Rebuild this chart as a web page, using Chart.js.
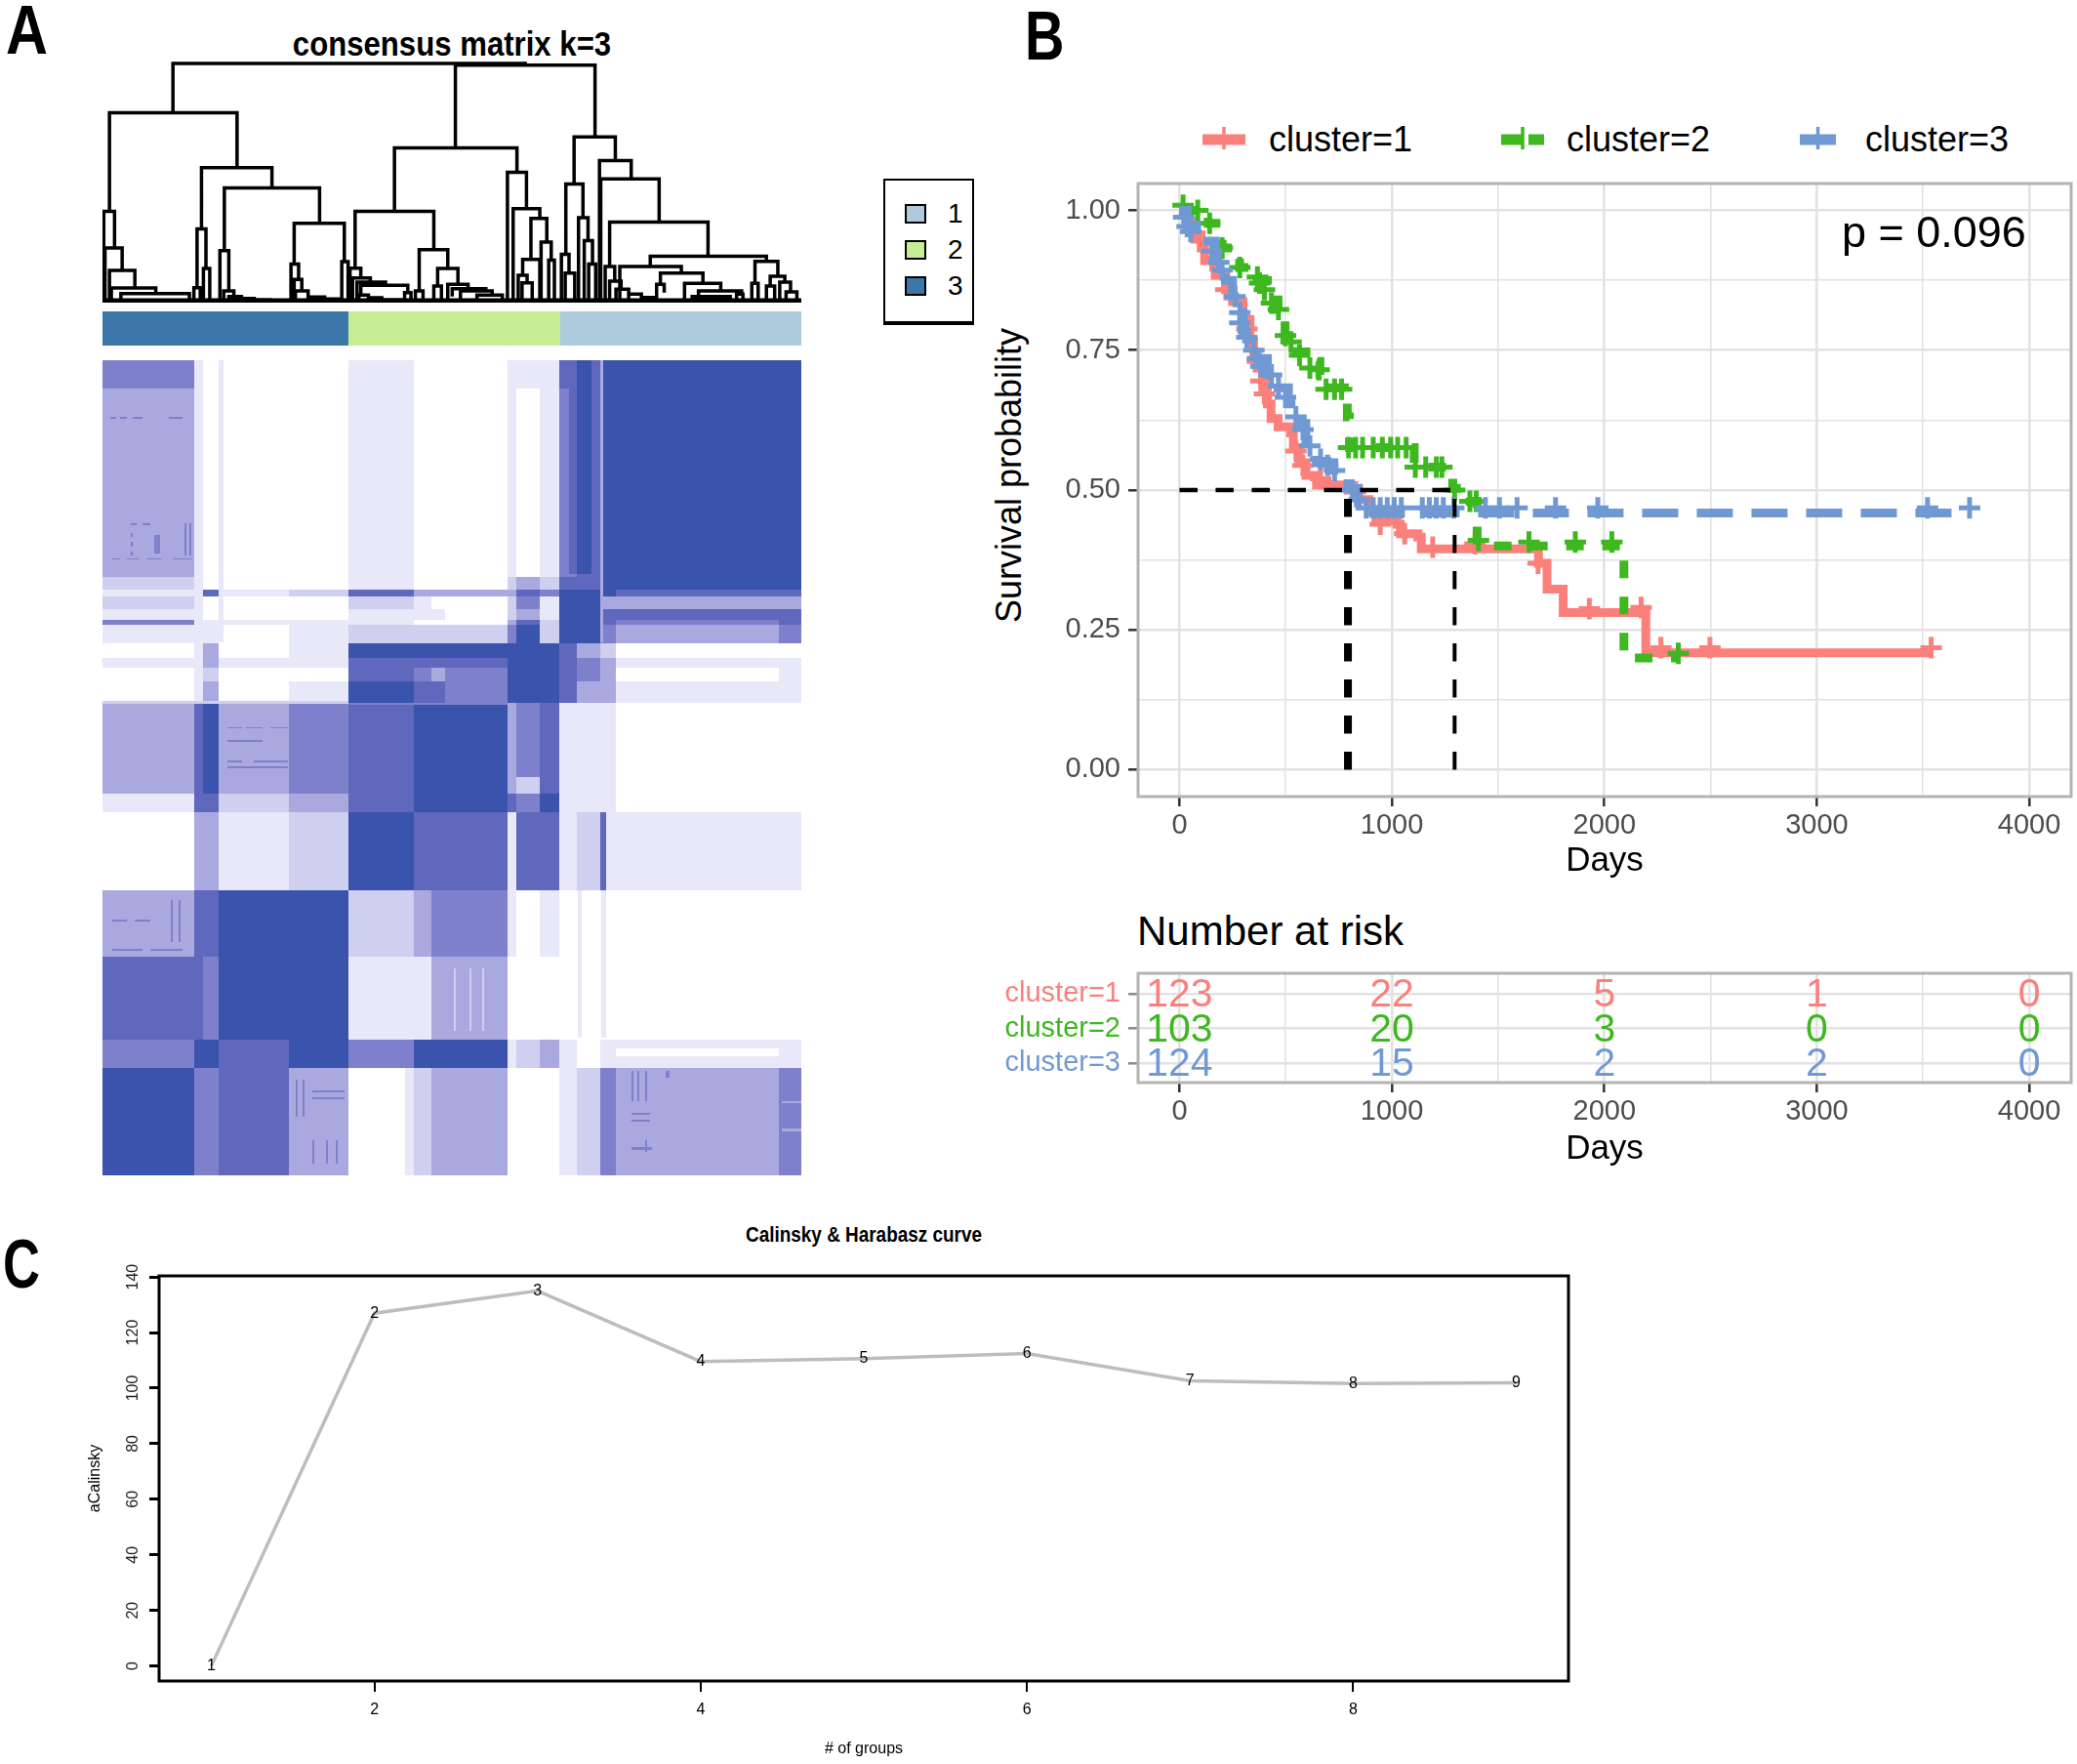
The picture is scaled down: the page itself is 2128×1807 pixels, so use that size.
<!DOCTYPE html>
<html>
<head>
<meta charset="utf-8">
<title>Consensus clustering</title>
<script src="https://cdn.jsdelivr.net/npm/chart.js@4"></script>
<style>
    html, body { margin: 0; padding: 0; background: #fff; }
    #page { position: relative; width: 2128px; height: 1807px; overflow: hidden; font-family: 'Liberation Sans', Arial, sans-serif; }
    #page canvas { position: absolute; }
    .txt { position: absolute; white-space: nowrap; line-height: 1; color: #000; }
    #heatLegend { position: absolute; left: 905px; top: 183px; width: 89px; height: 144px; border: 2px solid #000; border-bottom-width: 4px; }
    #heatLegend .sw { position: absolute; left: 20px; width: 18px; height: 16px; border: 2px solid #000; }
    #heatLegend .lb { position: absolute; left: 64px; font-size: 28px; line-height: 1; color: #000; }
</style>
</head>
<body>
<div id="page"></div>
<script>
// ---------- panel A: consensus matrix ----------
const annotNames = ['3', '2', '1'];
const annotSizes = [123, 106, 121];
const annotColors = ['#3b77a8', '#c7ee92', '#adcbdd'];
const legendNames = ['1', '2', '3'];
const legendColors = ['#adcbdd', '#c7ee92', '#3b77a8'];

// dendrogram merges: left leaf pos, right leaf pos, height, left child height, right child height
const dendroMerges = [
    [111, 666, 733, 583, 728], [556, 776, 728, 476, 508], [11, 212, 581, 278, 412],
    [2, 19, 278, 0, 165], [4, 31, 165, 0, 96], [11, 51, 96, 0, 42], [14, 84, 42, 0, 25], [29, 137, 25, 0, 0],
    [156, 267, 412, 224, 350], [149, 163, 224, 43, 102], [144, 154, 43, 0, 0], [159, 169, 102, 0, 0],
    [192, 342, 350, 157, 241], [185, 199, 157, 0, 33], [191, 207, 33, 0, 16],
    [199, 219, 16, 0, 10], [219, 239, 10, 0, 6], [239, 264, 6, 0, 3], [264, 294, 3, 0, 0],
    [302, 381, 241, 116, 123], [297, 309, 116, 0, 68], [302, 314, 68, 0, 33],
    [304, 324, 33, 0, 14], [324, 350, 14, 0, 8], [350, 374, 8, 0, 0], [377, 387, 123, 0, 0],
    [460, 653, 473, 280, 398], [398, 522, 278, 103, 160], [390, 407, 103, 0, 73], [394, 422, 73, 0, 60],
    [401, 446, 60, 0, 50], [407, 481, 50, 20, 28], [404, 419, 20, 0, 12], [419, 440, 12, 0, 6], [440, 474, 6, 0, 0],
    [476, 486, 28, 0, 0], [499, 544, 160, 33, 102], [493, 505, 33, 0, 0], [528, 560, 102, 48, 53], [522, 534, 48, 0, 0],
    [544, 576, 53, 0, 40], [551, 604, 40, 16, 33], [564, 614, 33, 0, 20], [590, 630, 20, 0, 0],
    [638, 668, 398, 0, 286], [647, 689, 286, 0, 256], [675, 700, 256, 130, 183], [662, 689, 130, 81, 0],
    [655, 669, 81, 0, 58], [661, 677, 58, 0, 0], [691, 707, 183, 0, 128], [703, 712, 128, 0, 0],
    [743, 808, 507, 362, 435], [730, 757, 362, 146, 258], [723, 735, 146, 0, 88], [729, 744, 88, 0, 0],
    [750, 765, 258, 0, 188], [759, 772, 188, 0, 116], [766, 777, 116, 0, 0],
    [783, 833, 434, 0, 378], [785, 877, 378, 0, 245], [799, 954, 245, 108, 140], [792, 807, 108, 0, 63],
    [799, 817, 63, 0, 38], [809, 829, 38, 0, 23], [829, 849, 23, 0, 13], [849, 869, 13, 0, 0],
    [863, 1046, 140, 108, 124], [815, 912, 108, 0, 88], [879, 946, 88, 53, 56], [873, 885, 53, 0, 28],
    [917, 974, 56, 0, 33], [939, 1007, 33, 18, 23], [929, 989, 16, 0, 0], [999, 1009, 23, 0, 0],
    [1028, 1064, 124, 56, 78], [1023, 1033, 56, 0, 0], [1052, 1075, 78, 48, 60], [1046, 1059, 48, 0, 0],
    [1067, 1084, 60, 0, 30], [1077, 1094, 30, 0, 0], [0, 1101, 2, 0, 0], [0, 1101, 5, 0, 0]
];

// consensus matrix as blocks: column / row breaks in sample units, one shade level per block
const heatColBreaks = [0, 45.9, 50.5, 58, 93.6, 123, 155.8, 164.5, 171.5, 203, 207.3, 219, 228.8, 237.7, 249.4, 256.9, 338.8, 350];
const heatRowBreaks = [0, 12, 92.9, 98.7, 101.6, 106.7, 111.3, 113.6, 121.6, 127.9, 132, 137.7, 147, 179, 186, 194, 227.4, 256.2, 291.8, 304, 350];
const heatLevels = [
    [4, 1, 0, 0, 0, 1, 0, 0, 0, 1, 1, 1, 5, 5, 6, 6, 6],
    [3, 1, 0, 0, 0, 1, 0, 0, 0, 1, 0, 1, 4, 5, 6, 6, 6],
    [2, 1, 0, 0, 0, 1, 0, 0, 0, 2, 3, 2, 5, 5, 6, 6, 6],
    [1, 1, 5, 1, 2, 5, 3, 3, 3, 3, 5, 4, 6, 6, 6, 5, 5],
    [2, 1, 0, 0, 0, 2, 1, 0, 0, 2, 4, 1, 6, 6, 3, 3, 3],
    [1, 1, 0, 0, 0, 1, 1, 1, 0, 2, 3, 1, 6, 6, 5, 5, 5],
    [4, 1, 1, 1, 1, 1, 0, 0, 0, 3, 5, 2, 6, 6, 5, 4, 5],
    [1, 1, 1, 0, 1, 2, 2, 2, 2, 4, 6, 2, 6, 6, 4, 3, 4],
    [0, 1, 3, 0, 1, 6, 6, 6, 6, 6, 6, 6, 5, 3, 2, 0, 0],
    [1, 1, 3, 1, 1, 5, 5, 5, 5, 6, 6, 6, 5, 4, 3, 1, 1],
    [0, 1, 2, 0, 0, 5, 4, 3, 4, 6, 6, 6, 5, 4, 3, 0, 1],
    [0, 1, 3, 0, 1, 6, 5, 5, 4, 6, 6, 6, 5, 3, 3, 1, 1],
    [3, 5, 6, 3, 4, 5, 6, 6, 6, 3, 4, 5, 1, 1, 1, 0, 0],
    [3, 5, 6, 3, 4, 5, 6, 6, 6, 3, 2, 5, 1, 1, 1, 0, 0],
    [1, 5, 5, 2, 3, 5, 6, 6, 6, 5, 4, 6, 1, 1, 1, 0, 0],
    [0, 3, 3, 1, 2, 6, 5, 5, 5, 1, 5, 5, 1, 2, 1, 1, 1],
    [3, 5, 5, 6, 6, 2, 3, 4, 4, 1, 0, 1, 0, 0, 0, 0, 0],
    [5, 5, 4, 6, 6, 1, 1, 3, 3, 0, 0, 0, 0, 0, 0, 0, 0],
    [4, 6, 6, 5, 6, 4, 6, 6, 6, 1, 2, 3, 1, 0, 1, 1, 1],
    [6, 4, 4, 5, 3, 0, 2, 3, 3, 0, 0, 0, 1, 2, 4, 3, 4]
];
// thin lines and dotted patches over the blocks: x from, x to, y from, y to, level
const heatOverlays = [
    [58, 60.5, 0, 121, 1], [249.4, 250.6, 0, 121, 3], [249.4, 252.2, 194, 227.4, 5],
    [233.5, 237.7, 0, 92, 5], [237.7, 245, 0, 92, 6], [245, 249.4, 0, 92, 5],
    [238, 240, 227.4, 291, 1], [250, 252, 227.4, 291, 1], [151.6, 155.8, 304, 350, 1],
    [256.9, 338.8, 295.3, 298.8, 0], [0, 123, 146.4, 147.4, 2], [123, 203, 147, 148, 4],
    // left block, top
    [5, 9, 84.9, 85.6, 4], [12, 18, 84.9, 85.6, 4], [22, 30, 84.9, 85.6, 4], [35, 45, 84.9, 85.6, 4],
    [14, 15, 74, 76, 4], [14, 15, 78, 80, 4], [14, 15, 82, 84, 4], [26, 29, 75, 83, 4], [41, 42, 70, 84, 4], [43.5, 44.5, 70, 84, 4],
    [14, 17, 70, 70.7, 4], [20, 24, 70, 70.7, 4], [4, 7, 24.4, 25, 4], [9, 12, 24.4, 25, 4], [15, 20, 24.4, 25, 4], [33, 40, 24.4, 25, 4],
    // middle left block
    [62.7, 70, 157.5, 158.2, 4], [72, 80, 157.5, 158.2, 4], [84, 93, 157.5, 158.2, 4], [62.7, 80, 163, 163.7, 4],
    [62.7, 70, 172, 172.7, 4], [76, 93, 172, 172.7, 4], [62.7, 93, 174.5, 175.2, 4],
    // lower left block
    [5, 12, 240, 241, 4], [16, 24, 240, 241, 4], [5, 20, 252.8, 253.5, 4], [24, 40, 252.8, 253.5, 4], [34, 35, 232, 250, 4], [38, 39, 232, 250, 4],
    // dotted patches
    [176, 177, 261, 288, 2], [184, 185, 261, 288, 2], [190, 191, 261, 288, 2],
    [97, 98, 309, 325, 4], [100, 101, 309, 325, 4], [105, 121, 313.7, 314.5, 4], [105, 121, 316.5, 317.2, 4],
    [105, 106, 335, 345, 4], [112, 113, 335, 345, 4], [117, 118, 335, 345, 4],
    [265, 266, 305, 318, 4], [268, 269, 305, 318, 4], [272, 273, 305, 318, 4], [282, 284, 305, 308, 4],
    [265, 274, 323, 324, 4], [265, 274, 326, 327, 4], [272, 273, 335, 340, 4], [265, 275, 338, 339, 4],
    [340, 350, 318, 319, 3], [340, 350, 330, 331, 3]
];
const heatPalette = ['#ffffff', '#e8e8f9', '#cfcff0', '#a9a9e0', '#7f80cc', '#5f68bc', '#3a53ad'];

// ---------- panel B: survival curves ----------
const clusterNames = ['cluster=1', 'cluster=2', 'cluster=3'];
const clusterColors = ['#fb807c', '#3db81f', '#7099d4'];

const redDays = [0, 36, 69, 102, 118, 168, 217, 250, 299, 332, 349, 365, 391, 414, 431, 464, 523, 536, 563, 595, 645, 793, 842, 891, 924, 1023, 1040, 1122, 1138, 1690, 1730, 1806, 2195, 3540];
const redSurv = [1, 0.98, 0.956, 0.933, 0.91, 0.884, 0.858, 0.837, 0.805, 0.765, 0.741, 0.718, 0.689, 0.654, 0.628, 0.613, 0.602, 0.576, 0.549, 0.526, 0.509, 0.5, 0.483, 0.462, 0.445, 0.439, 0.422, 0.416, 0.395, 0.369, 0.323, 0.281, 0.209, 0.209];
const greenDays = [0, 102, 135, 201, 283, 365, 414, 464, 497, 546, 595, 661, 694, 776, 790, 800, 1105, 1286, 1368, 1401, 2092, 2340];
const greenSurv = [1, 0.997, 0.977, 0.933, 0.898, 0.875, 0.84, 0.823, 0.776, 0.747, 0.73, 0.706, 0.683, 0.677, 0.631, 0.576, 0.541, 0.503, 0.48, 0.4, 0.2, 0.2];
const blueDays = [0, 36, 102, 168, 217, 250, 283, 299, 316, 365, 414, 464, 513, 563, 595, 645, 727, 793, 842, 891, 3719];
const blueSurv = [1, 0.974, 0.945, 0.91, 0.875, 0.846, 0.817, 0.782, 0.759, 0.735, 0.706, 0.683, 0.654, 0.619, 0.584, 0.549, 0.52, 0.503, 0.477, 0.459, 0.459];

// censored samples
const redCensorDays = [102, 152, 218, 317, 367, 383, 400, 548, 581, 664, 829, 945, 1060, 1192, 1391, 1688, 1929, 2173, 2266, 2497, 3538];
const redCensorSurv = [0.945, 0.91, 0.858, 0.788, 0.73, 0.695, 0.672, 0.57, 0.544, 0.52, 0.497, 0.439, 0.422, 0.398, 0.404, 0.369, 0.288, 0.29, 0.218, 0.218, 0.218];
const greenCensorDays = [17, 86, 142, 201, 284, 367, 377, 400, 433, 466, 499, 525, 565, 614, 657, 690, 730, 763, 796, 829, 862, 912, 955, 994, 1027, 1067, 1110, 1159, 1209, 1235, 1295, 1367, 1397, 1407, 1645, 1863, 2035, 2348];
const greenCensorSurv = [1.009, 1, 0.977, 0.933, 0.898, 0.881, 0.87, 0.858, 0.834, 0.823, 0.776, 0.765, 0.741, 0.718, 0.715, 0.68, 0.68, 0.68, 0.576, 0.576, 0.576, 0.576, 0.576, 0.576, 0.576, 0.576, 0.541, 0.541, 0.541, 0.541, 0.5, 0.48, 0.48, 0.41, 0.407, 0.407, 0.407, 0.208];
const blueCensorDays = [20, 36, 53, 152, 185, 201, 261, 284, 284, 317, 350, 367, 383, 433, 466, 499, 548, 581, 614, 664, 697, 730, 813, 846, 879, 912, 945, 978, 1011, 1044, 1143, 1176, 1209, 1242, 1291, 1440, 1506, 1589, 1770, 1969, 3521, 3719];
const blueCensorSurv = [0.988, 0.971, 0.962, 0.927, 0.907, 0.893, 0.846, 0.817, 0.799, 0.773, 0.75, 0.735, 0.721, 0.706, 0.686, 0.666, 0.631, 0.608, 0.579, 0.555, 0.544, 0.535, 0.5, 0.483, 0.468, 0.468, 0.468, 0.468, 0.468, 0.468, 0.468, 0.468, 0.468, 0.468, 0.468, 0.468, 0.468, 0.468, 0.468, 0.468, 0.468, 0.468];

const medianDays = [793, 1295];
const pValueText = 'p = 0.096';

const dayGridVals = [0, 500, 1000, 1500, 2000, 2500, 3000, 3500, 4000];
const survGridVals = [0, 0.125, 0.25, 0.375, 0.5, 0.625, 0.75, 0.875, 1];

// number at risk table
const riskDays = [0, 1000, 2000, 3000, 4000];
const riskCluster1 = [123, 22, 5, 1, 0];
const riskCluster2 = [103, 20, 3, 0, 0];
const riskCluster3 = [124, 15, 2, 2, 0];

// ---------- panel C: Calinski & Harabasz curve ----------
const groupCounts = [1, 2, 3, 4, 5, 6, 7, 8, 9];
const calinskyValues = [0, 127, 135, 109.6, 110.6, 112.5, 102.6, 101.7, 101.9];

// ---------- helpers ----------
Chart.defaults.font.family = "'Liberation Sans', Arial, sans-serif";
Chart.defaults.animation = false;
Chart.defaults.responsive = false;
Chart.defaults.devicePixelRatio = 1;
Chart.defaults.layout.autoPadding = false;
Chart.defaults.plugins.legend.display = false;
Chart.defaults.plugins.tooltip.enabled = false;

const page = document.getElementById('page');

function addCanvas(left, top, width, height) {
    const canvas = document.createElement('canvas');
    canvas.width = width;
    canvas.height = height;
    canvas.style.left = left + 'px';
    canvas.style.top = top + 'px';
    page.appendChild(canvas);
    return canvas;
}

function addText(text, left, top, size, extra) {
    const el = document.createElement('div');
    el.className = 'txt';
    el.textContent = text;
    el.style.left = left + 'px';
    el.style.top = top + 'px';
    el.style.fontSize = size + 'px';
    Object.assign(el.style, extra || {});
    page.appendChild(el);
    return el;
}

function xy(xs, ys) {
    return xs.map((x, i) => ({ x: x, y: ys[i] }));
}

// scale sizes fixed so the plot areas land where they should
function fixVertical(width) {
    return s => { s.width = width; s.paddingTop = 0; s.paddingBottom = 0; };
}

function fixHorizontal(height) {
    return s => { s.height = height; s.paddingLeft = 0; s.paddingRight = 0; };
}

// box around the plot area
const panelBorder = {
    id: 'panelBorder',
    afterDatasetsDraw(chart, args, opts) {
        const a = chart.chartArea;
        const ctx = chart.ctx;
        ctx.save();
        ctx.strokeStyle = opts.color;
        ctx.lineWidth = opts.width;
        ctx.strokeRect(a.left, a.top, a.right - a.left, a.bottom - a.top);
        ctx.restore();
    }
};

// writes a text at each point of the datasets that carry textLabels
const pointText = {
    id: 'pointText',
    afterDatasetsDraw(chart) {
        const ctx = chart.ctx;
        chart.data.datasets.forEach((ds, i) => {
            if (!ds.textLabels) return;
            ctx.save();
            ctx.font = ds.textFont;
            ctx.fillStyle = ds.textColor;
            ctx.textAlign = ds.textAlign || 'center';
            ctx.textBaseline = 'middle';
            chart.getDatasetMeta(i).data.forEach((el, j) => {
                ctx.fillText(ds.textLabels[j], el.x, el.y + (ds.textDy || 0));
            });
            ctx.restore();
        });
    }
};

// heatmap blocks, placed through the scales
const heatBlocks = {
    id: 'heatBlocks',
    beforeDatasetsDraw(chart) {
        const ctx = chart.ctx;
        const x = chart.scales.x;
        const y = chart.scales.y;
        chart.data.datasets[0].data.forEach(c => {
            const x0 = Math.round(x.getPixelForValue(c.x0));
            const x1 = Math.round(x.getPixelForValue(c.x1));
            const y0 = Math.round(y.getPixelForValue(c.y0));
            const y1 = Math.round(y.getPixelForValue(c.y1));
            ctx.fillStyle = heatPalette[c.level];
            ctx.fillRect(x0, y0, Math.max(x1 - x0, 1), Math.max(y1 - y0, 1));
        });
    }
};

// ---------- panel A ----------
function drawDendrogram() {
    const pts = [];
    dendroMerges.forEach(m => {
        pts.push({ x: m[0], y: m[3] }, { x: m[0], y: m[2] }, { x: m[1], y: m[2] }, { x: m[1], y: m[4] }, { x: null, y: null });
    });
    new Chart(addCanvas(105, 50, 716, 270), {
        type: 'scatter',
        data: {
            datasets: [{
                data: pts,
                showLine: true,
                spanGaps: false,
                pointRadius: 0,
                borderColor: '#000',
                borderWidth: 3.5,
                borderJoinStyle: 'miter',
                clip: 8
            }]
        },
        options: {
            layout: { padding: { top: 15, bottom: 11 } },
            scales: {
                x: { type: 'linear', display: false, min: 0, max: 1101 },
                y: { type: 'linear', display: false, min: 0, max: 733 }
            }
        }
    });
}

function drawAnnotation() {
    new Chart(addCanvas(105, 319, 716, 35), {
        type: 'bar',
        data: {
            labels: [''],
            datasets: annotNames.map((name, i) => ({
                label: name,
                data: [annotSizes[i]],
                backgroundColor: annotColors[i],
                barPercentage: 1,
                categoryPercentage: 1
            }))
        },
        options: {
            indexAxis: 'y',
            scales: {
                x: { display: false, stacked: true, min: 0, max: 350 },
                y: { display: false, stacked: true }
            }
        }
    });
}

function drawHeatmap() {
    const cells = [];
    heatLevels.forEach((row, r) => {
        row.forEach((level, c) => {
            cells.push({
                x: heatColBreaks[c], y: heatRowBreaks[r],
                x0: heatColBreaks[c], x1: heatColBreaks[c + 1],
                y0: heatRowBreaks[r], y1: heatRowBreaks[r + 1],
                level: level
            });
        });
    });
    heatOverlays.forEach(o => {
        cells.push({ x: o[0], y: o[2], x0: o[0], x1: o[1], y0: o[2], y1: o[3], level: o[4] });
    });
    new Chart(addCanvas(105, 369, 716, 835), {
        type: 'scatter',
        data: { datasets: [{ data: cells, pointRadius: 0 }] },
        options: {
            scales: {
                x: { type: 'linear', display: false, min: 0, max: 350 },
                y: { type: 'linear', display: false, min: 0, max: 350, reverse: true }
            }
        },
        plugins: [heatBlocks]
    });
}

function drawHeatLegend() {
    const box = document.createElement('div');
    box.id = 'heatLegend';
    legendNames.forEach((name, i) => {
        const sw = document.createElement('div');
        sw.className = 'sw';
        sw.style.top = (24 + i * 37) + 'px';
        sw.style.background = legendColors[i];
        box.appendChild(sw);
        const lb = document.createElement('div');
        lb.className = 'lb';
        lb.textContent = name;
        lb.style.top = (20 + i * 37) + 'px';
        box.appendChild(lb);
    });
    page.appendChild(box);
}

// ---------- panel B ----------
function stepDataset(xs, ys, color, dash, order) {
    return {
        data: xy(xs, ys),
        showLine: true,
        stepped: 'before',
        pointRadius: 0,
        borderColor: color,
        borderWidth: 9,
        borderDash: dash,
        borderCapStyle: 'butt',
        borderJoinStyle: 'miter',
        order: order
    };
}

function censorDataset(xs, ys, color, order) {
    return {
        data: xy(xs, ys),
        showLine: false,
        pointStyle: 'cross',
        pointRadius: 11,
        pointBorderWidth: 5,
        pointBorderColor: color,
        pointBackgroundColor: color,
        order: order
    };
}

function medianDataset(xs, ys, width) {
    return {
        data: xy(xs, ys),
        showLine: true,
        pointRadius: 0,
        borderColor: '#000',
        borderWidth: width,
        borderDash: [18.5, 18.5],
        borderCapStyle: 'butt',
        order: 0
    };
}

function dayAxis() {
    return {
        type: 'linear',
        min: -195,
        max: 4197,
        afterBuildTicks: s => { s.ticks = dayGridVals.map(v => ({ value: v })); },
        grid: {
            color: '#e2e2e2',
            lineWidth: ctx => ctx.tick && ctx.tick.value % 1000 === 0 ? 2.6 : 1.6,
            tickLength: 10,
            tickWidth: 2.5,
            tickColor: ctx => ctx.tick && ctx.tick.value % 1000 === 0 ? '#333' : 'rgba(0,0,0,0)'
        },
        border: { display: false },
        ticks: {
            autoSkip: false,
            maxRotation: 0,
            padding: 3,
            color: '#4d4d4d',
            font: { size: 29 },
            callback: v => v % 1000 === 0 ? String(v) : ''
        },
        title: { display: true, text: 'Days', color: '#000', font: { size: 35 }, padding: { bottom: 2 } }
    };
}

function drawSurvival() {
    // drawn from low to high: red, green, blue and the median lines on top
    const datasets = [
        stepDataset(redDays, redSurv, clusterColors[0], [], 6),
        censorDataset(redCensorDays, redCensorSurv, clusterColors[0], 6),
        stepDataset(greenDays, greenSurv, clusterColors[1], [18, 19], 4),
        censorDataset(greenCensorDays, greenCensorSurv, clusterColors[1], 4),
        stepDataset(blueDays, blueSurv, clusterColors[2], [37, 19], 2),
        censorDataset(blueCensorDays, blueCensorSurv, clusterColors[2], 2),
        medianDataset([0, medianDays[1]], [0.5, 0.5], 4.5),
        medianDataset([medianDays[0], medianDays[0]], [0, 0.5], 8),
        medianDataset([medianDays[1], medianDays[1]], [0, 0.5], 4),
        {
            data: [{ x: 3985, y: 0.956 }],
            pointRadius: 0,
            textLabels: [pValueText],
            textFont: "45px 'Liberation Sans'",
            textColor: '#000',
            textAlign: 'right'
        }
    ];
    const yMajor = [0, 0.25, 0.5, 0.75, 1];
    addText('Survival probability', 1034, 487, 36, { transform: 'translate(-50%, -50%) rotate(-90deg)' });
    new Chart(addCanvas(1000, 160, 1128, 745), {
        type: 'scatter',
        data: { datasets: datasets },
        options: {
            layout: { padding: { top: 28, right: 6 } },
            plugins: { panelBorder: { color: '#b3b3b3', width: 3 } },
            scales: {
                x: Object.assign(dayAxis(), { afterFit: fixHorizontal(89) }),
                y: {
                    type: 'linear',
                    min: -0.048,
                    max: 1.048,
                    afterBuildTicks: s => { s.ticks = survGridVals.map(v => ({ value: v })); },
                    afterFit: fixVertical(166),
                    grid: {
                        color: '#e2e2e2',
                        lineWidth: ctx => ctx.tick && yMajor.includes(ctx.tick.value) ? 2.6 : 1.6,
                        tickLength: 10,
                        tickWidth: 2.5,
                        tickColor: ctx => ctx.tick && yMajor.includes(ctx.tick.value) ? '#333' : 'rgba(0,0,0,0)'
                    },
                    border: { display: false },
                    ticks: {
                        autoSkip: false,
                        padding: 8,
                        color: '#4d4d4d',
                        font: { size: 29 },
                        callback: v => yMajor.includes(v) ? v.toFixed(2) : ''
                    }
                }
            }
        },
        plugins: [panelBorder, pointText]
    });
}

function drawSurvivalLegend() {
    const keys = [
        { left: 1232, width: 44, dash: '', textLeft: 1300 },
        { left: 1538, width: 44, dash: '22 6', textLeft: 1605 },
        { left: 1844, width: 37, dash: '', textLeft: 1911 }
    ];
    keys.forEach((k, i) => {
        const svg = document.createElementNS('http://www.w3.org/2000/svg', 'svg');
        svg.setAttribute('width', k.width);
        svg.setAttribute('height', 24);
        svg.style.position = 'absolute';
        svg.style.left = k.left + 'px';
        svg.style.top = '130px';
        svg.innerHTML = `<line x1="0" y1="13" x2="${k.width}" y2="13" stroke="${clusterColors[i]}" stroke-width="11" stroke-dasharray="${k.dash}"/>` +
            `<line x1="${k.width / 2}" y1="0" x2="${k.width / 2}" y2="23" stroke="${clusterColors[i]}" stroke-width="3.5"/>`;
        page.appendChild(svg);
        addText(clusterNames[i], k.textLeft, 125, 36);
    });
}

function drawRiskTable() {
    const rows = [riskCluster1, riskCluster2, riskCluster3];
    const datasets = rows.map((values, r) => ({
        data: riskDays.map(d => ({ x: d, y: r + 1 })),
        pointRadius: 0,
        textLabels: values.map(String),
        textFont: "41px 'Liberation Sans'",
        textColor: clusterColors[r],
        textDy: 2
    }));
    addText('Number at risk', 1165, 933, 42);
    new Chart(addCanvas(1000, 980, 1128, 220), {
        type: 'scatter',
        data: { datasets: datasets },
        options: {
            layout: { padding: { top: 17, right: 6 } },
            plugins: { panelBorder: { color: '#b3b3b3', width: 3 } },
            scales: {
                x: Object.assign(dayAxis(), { afterFit: fixHorizontal(91) }),
                y: {
                    type: 'linear',
                    reverse: true,
                    min: 0.41,
                    max: 3.56,
                    afterBuildTicks: s => { s.ticks = [1, 2, 3].map(v => ({ value: v })); },
                    afterFit: fixVertical(166),
                    grid: { color: '#e2e2e2', lineWidth: 2.6, tickLength: 10, tickWidth: 2.5, tickColor: '#8a8a8a' },
                    border: { display: false },
                    ticks: {
                        autoSkip: false,
                        padding: 8,
                        font: { size: 29 },
                        color: ctx => clusterColors[ctx.index],
                        callback: v => clusterNames[v - 1]
                    }
                }
            }
        },
        plugins: [panelBorder, pointText]
    });
}

// ---------- panel C ----------
function drawCalinsky() {
    addText('Calinsky & Harabasz curve', 885, 1254, 22, { fontWeight: 'bold', transform: 'translateX(-50%) scaleX(0.86)' });
    new Chart(addCanvas(60, 1290, 1650, 517), {
        type: 'scatter',
        data: {
            datasets: [{
                data: xy(groupCounts, calinskyValues),
                showLine: true,
                borderColor: '#bdbdbd',
                borderWidth: 3.5,
                pointRadius: 0,
                textLabels: groupCounts.map(String),
                textFont: "16px 'Liberation Sans'",
                textColor: '#000'
            }]
        },
        options: {
            layout: { padding: { top: 17, right: 103 } },
            plugins: { panelBorder: { color: '#000', width: 3 } },
            scales: {
                x: {
                    type: 'linear',
                    min: 0.68,
                    max: 9.32,
                    afterBuildTicks: s => { s.ticks = [2, 4, 6, 8].map(v => ({ value: v })); },
                    afterFit: fixHorizontal(85),
                    grid: { drawOnChartArea: false, color: '#000', lineWidth: 2, tickLength: 11 },
                    border: { display: false },
                    ticks: { autoSkip: false, maxRotation: 0, padding: 9, color: '#000', font: { size: 16 } },
                    title: { display: true, text: '# of groups', color: '#000', font: { size: 16 }, padding: { bottom: 6 } }
                },
                y: {
                    type: 'linear',
                    min: -5.4,
                    max: 140.4,
                    afterBuildTicks: s => { s.ticks = [0, 20, 40, 60, 80, 100, 120, 140].map(v => ({ value: v })); },
                    afterFit: fixVertical(103),
                    grid: { drawOnChartArea: false, color: '#000', lineWidth: 3, tickLength: 10 },
                    border: { display: false },
                    ticks: {
                        autoSkip: false,
                        minRotation: 90,
                        maxRotation: 90,
                        crossAlign: 'center',
                        padding: 3,
                        color: '#222',
                        font: { size: 16 }
                    },
                    title: { display: true, text: 'aCalinsky', color: '#000', font: { size: 16 }, padding: { top: 28 } }
                }
            }
        },
        plugins: [panelBorder, pointText]
    });
}

// panel letters and the heatmap title
addText('A', 6, -4, 70, { fontWeight: 'bold', transform: 'scaleX(0.85)', transformOrigin: 'left top' });
addText('B', 1050, 2, 70, { fontWeight: 'bold', transform: 'scaleX(0.8)', transformOrigin: 'left top' });
addText('C', 3, 1260, 70, { fontWeight: 'bold', transform: 'scaleX(0.75)', transformOrigin: 'left top' });
addText('consensus matrix k=3', 463, 27, 35, { fontWeight: 'bold', transform: 'translateX(-50%) scaleX(0.89)' });

drawDendrogram();
drawAnnotation();
drawHeatmap();
drawHeatLegend();
drawSurvivalLegend();
drawSurvival();
drawRiskTable();
drawCalinsky();
</script>
</body>
</html>
